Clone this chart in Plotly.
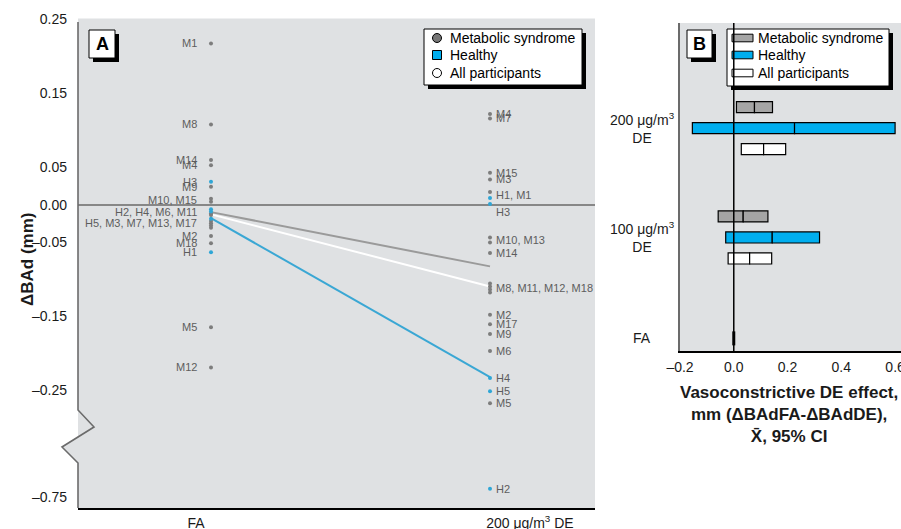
import plotly.graph_objects as go

# ---------------- data ----------------
participants = ["M1", "M2", "M3", "M4", "M5", "M6", "M7", "M8", "M9", "M10",
                "M11", "M12", "M13", "M14", "M15", "M17", "M18",
                "H1", "H2", "H3", "H4", "H5"]
bad_fa = [0.217, -0.042, -0.022, 0.053, -0.165, -0.012, -0.025, 0.108, 0.024, 0.008,
          -0.014, -0.219, -0.028, 0.060, 0.004, -0.031, -0.052,
          -0.064, -0.006, 0.031, -0.009, -0.019]
bad_de = [0.017, -0.148, 0.034, 0.122, -0.267, -0.197, 0.116, -0.106, -0.174, -0.044,
          -0.110, -0.114, -0.051, -0.065, 0.043, -0.161, -0.118,
          0.009, -0.739, 0.001, -0.233, -0.251]

fa_label_groups = [["M1"], ["M8"], ["M14"], ["M4"], ["H3"], ["M9"], ["M10", "M15"],
                   ["H2", "H4", "M6", "M11"], ["H5", "M3", "M7", "M13", "M17"],
                   ["M2"], ["M18"], ["H1"], ["M5"], ["M12"]]
de_label_groups = [["M4"], ["M7"], ["M15"], ["M3"], ["H1", "M1"], ["H3"], ["M10", "M13"],
                   ["M14"], ["M8", "M11", "M12", "M18"], ["M2"], ["M17"], ["M9"], ["M6"],
                   ["H4"], ["H5"], ["M5"], ["H2"]]

mean_groups = ["Metabolic syndrome", "All participants", "Healthy"]
mean_fa = [-0.010, -0.013, -0.018]
mean_de = [-0.083, -0.110, -0.232]

# Panel B: vasoconstrictive DE effect (mean, 95% CI) for 100 and 200 µg/m3 DE
b_exposures = ["100 μg/m<sup>3</sup><br>DE", "200 μg/m<sup>3</sup><br>DE"]
b_reference = "FA"
b_reference_effect = 0.0
mets_mean = [0.035, 0.077]
mets_lo = [-0.058, 0.010]
mets_hi = [0.127, 0.144]
healthy_mean = [0.143, 0.226]
healthy_lo = [-0.030, -0.154]
healthy_hi = [0.319, 0.600]
all_mean = [0.059, 0.111]
all_lo = [-0.021, 0.028]
all_hi = [0.141, 0.193]

legend_names = ["Metabolic syndrome", "Healthy", "All participants"]

a_yticks = [0.25, 0.15, 0.05, 0.0, -0.05, -0.15, -0.25]
a_yticktext = ["0.25", "0.15", "0.05", "0.00", "–0.05", "–0.15", "–0.25"]
a_low_ticks = [-0.75]
a_low_ticktext = ["–0.75"]
a_xticktext = ["FA", "200 μg/m<sup>3</sup> DE"]
b_xticks = [-0.2, 0.0, 0.2, 0.4, 0.6]
b_xticktext = ["–0.2", "0.0", "0.2", "0.4", "0.6"]

# ---------------- style / layout helpers ----------------
W, H = 901, 529
BG = "#dfe1e3"
GRAY_DOT = "#7d7d7d"
BLUE_DOT = "#2fa6d6"
BLUE_BAR = "#00aeef"
GRAY_BAR = "#a5a5a5"
SANS = "Liberation Sans, Arial, sans-serif"
TXT = "#1a1a1a"
LABEL_FONT = dict(family=SANS, size=11, color="#5d5d5d")
BREAK = -0.3  # values below this go to the lower (broken) segment


def px(x):
    return x / W


def py(y):
    return 1 - y / H


value_fa = dict(zip(participants, bad_fa))
value_de = dict(zip(participants, bad_de))

fig = go.Figure()

# group mean lines (panel A)
line_colors = {"Metabolic syndrome": "#9a9a9a", "All participants": "#ffffff", "Healthy": "#3aa7d4"}
for g, f, d in zip(mean_groups, mean_fa, mean_de):
    fig.add_trace(go.Scatter(x=[0, 1], y=[f, d], mode="lines", showlegend=False,
                             line=dict(color=line_colors[g], width=2), hoverinfo="skip",
                             xaxis="x", yaxis="y"))

# individual points (panel A)
for prefix, color in (("M", GRAY_DOT), ("H", BLUE_DOT)):
    for xpos, vals in ((0, value_fa), (1, value_de)):
        ids = [p for p in participants if p.startswith(prefix)]
        up = [vals[p] for p in ids if vals[p] >= BREAK]
        lo = [vals[p] for p in ids if vals[p] < BREAK]
        fig.add_trace(go.Scatter(x=[xpos] * len(up), y=up, mode="markers", showlegend=False,
                                 marker=dict(color=color, size=4), xaxis="x", yaxis="y"))
        if lo:
            fig.add_trace(go.Scatter(x=[xpos] * len(lo), y=lo, mode="markers", showlegend=False,
                                     marker=dict(color=color, size=4), xaxis="x", yaxis="y2"))

# panel B bars: category positions and in-group offsets
cat_pos = [0.96, 2.0]
offsets = {"Metabolic syndrome": 0.2, "Healthy": 0.0, "All participants": -0.2}
bar_sets = [("Metabolic syndrome", GRAY_BAR, mets_lo, mets_mean, mets_hi),
            ("Healthy", BLUE_BAR, healthy_lo, healthy_mean, healthy_hi),
            ("All participants", "white", all_lo, all_mean, all_hi)]
for name, color, lo, mn, hi in bar_sets:
    ys = [c + offsets[name] for c in cat_pos]
    fig.add_trace(go.Bar(orientation="h", y=ys, base=lo, x=[m - l for m, l in zip(mn, lo)],
                         width=0.105, marker=dict(color=color, line=dict(color="black", width=1.2)),
                         name=name, showlegend=False, xaxis="x3", yaxis="y3"))
    fig.add_trace(go.Bar(orientation="h", y=ys, base=mn, x=[h - m for h, m in zip(hi, mn)],
                         width=0.105, marker=dict(color=color, line=dict(color="black", width=1.2)),
                         name=name, showlegend=False, xaxis="x3", yaxis="y3"))
# FA reference mark
fig.add_trace(go.Scatter(x=[b_reference_effect], y=[0], mode="markers", showlegend=False,
                         marker=dict(symbol="line-ns", size=10, line=dict(color="black", width=3)),
                         xaxis="x3", yaxis="y3"))

# ---------------- annotations ----------------
ann = []
de_label_nudge = {"H3": -8}
for groups, vals, xpos, side in ((fa_label_groups, value_fa, 0, "left"), (de_label_groups, value_de, 1, "right")):
    for grp in groups:
        yv = sum(vals[p] for p in grp) / len(grp)
        key = ", ".join(grp)
        ann.append(dict(text=key, x=xpos, y=yv, xref="x", yref="y" if yv >= BREAK else "y2",
                        xanchor="right" if side == "left" else "left", yanchor="middle",
                        xshift=-12 if side == "left" else 4,
                        yshift=de_label_nudge.get(key, 0) if side == "right" else 0,
                        showarrow=False, font=LABEL_FONT))

# y title panel A
ann.append(dict(text="<b>ΔBAd (mm)</b>", x=px(27), y=py(260), xref="paper", yref="paper",
                xanchor="center", yanchor="middle",
                textangle=-90, showarrow=False, font=dict(family=SANS, size=17, color=TXT)))
# x title panel B
ann.append(dict(text="<b>Vasoconstrictive DE effect,<br>mm (ΔBAdFA-ΔBAdDE),<br>X̄, 95% CI</b>",
                x=px(789), y=py(381), xref="paper", yref="paper", xanchor="center", yanchor="top",
                showarrow=False, font=dict(family=SANS, size=17, color=TXT)))
# category labels panel B
for lab, c in zip(b_exposures, cat_pos):
    ann.append(dict(text=lab, x=px(642), y=c, xref="paper", yref="y3", xanchor="center", yanchor="middle",
                    align="center", showarrow=False, font=dict(family=SANS, size=14, color=TXT)))
ann.append(dict(text=b_reference, x=px(642), y=0, xref="paper", yref="y3", xanchor="center", yanchor="middle",
                showarrow=False, font=dict(family=SANS, size=14, color=TXT)))
# panel letters
for letter, x0, x1 in (("A", 89, 115), ("B", 687, 712)):
    ann.append(dict(text=f"<b>{letter}</b>", x=px((x0 + x1) / 2), y=py(44), xref="paper", yref="paper",
                    xanchor="center", yanchor="middle", showarrow=False,
                    font=dict(family=SANS, size=18, color="black")))

# ---------------- shapes ----------------
shapes = []


def box(x0, y0, x1, y1, shadow=4):
    shapes.append(dict(type="rect", xref="paper", yref="paper", x0=px(x0 + shadow), x1=px(x1 + shadow),
                       y0=py(y1 + shadow), y1=py(y0 + shadow), fillcolor="black", line=dict(width=0), layer="above"))
    shapes.append(dict(type="rect", xref="paper", yref="paper", x0=px(x0), x1=px(x1),
                       y0=py(y1), y1=py(y0), fillcolor="white", line=dict(color="black", width=1), layer="above"))


box(424, 29, 582, 85)
box(727, 29, 889, 86)
box(89, 30, 115, 58)
box(687, 30, 712, 58)

# legend keys (drawn inside the boxes)
row_y = [38, 55, 73]
a_keys = [("circle", "#777777"), ("rect", BLUE_BAR), ("circle", "white")]
for (kind, col), name, ry in zip(a_keys, legend_names, row_y):
    shapes.append(dict(type=kind, xref="paper", yref="paper", x0=px(432.5), x1=px(441.5),
                       y0=py(ry + 4.5), y1=py(ry - 4.5), fillcolor=col,
                       line=dict(color="black", width=1), layer="above"))
    ann.append(dict(text=name, x=px(448), y=py(ry), xref="paper", yref="paper", xanchor="left",
                    yanchor="middle", showarrow=False, font=dict(family=SANS, size=14, color="black")))
b_keys = [GRAY_BAR, BLUE_BAR, "white"]
for col, name, ry in zip(b_keys, legend_names, row_y):
    shapes.append(dict(type="rect", xref="paper", yref="paper", x0=px(732), x1=px(753),
                       y0=py(ry + 3.8), y1=py(ry - 3.8), fillcolor=col,
                       line=dict(color="black", width=1), layer="above"))
    ann.append(dict(text=name, x=px(756), y=py(ry), xref="paper", yref="paper", xanchor="left",
                    yanchor="middle", showarrow=False, font=dict(family=SANS, size=14, color="black")))

# broken left axis of panel A
shapes.append(dict(type="path", xref="paper", yref="paper",
                   path=f"M {px(78)},{py(437)} L {px(62)},{py(447)} L {px(78)},{py(463)} Z",
                   fillcolor=BG, line=dict(width=0), layer="below"))
shapes.append(dict(type="path", xref="paper", yref="paper",
                   path=(f"M {px(78)},{py(22)} L {px(78)},{py(410)} L {px(94)},{py(427)} "
                         f"L {px(62)},{py(447)} L {px(78)},{py(463)} L {px(78)},{py(508)}"),
                   line=dict(color="#6b6b6b", width=1.6), layer="above"))
# zero-effect line panel B
shapes.append(dict(type="line", xref="x3", yref="y3 domain", x0=0, x1=0, y0=0, y1=1,
                   line=dict(color="black", width=1.5), layer="above"))

tickfont = dict(family=SANS, size=14, color=TXT)
fig.update_layout(
    width=W, height=H, margin=dict(l=0, r=0, t=0, b=0, autoexpand=False), autosize=False,
    paper_bgcolor="white", plot_bgcolor=BG, barmode="overlay", showlegend=False,
    xaxis=dict(domain=[px(78), px(595)], range=[-0.4767, 1.3763], anchor="y2",
               showline=True, linecolor="black", linewidth=1.5, showgrid=False, zeroline=False,
               tickvals=[-0.054, 1.143], ticktext=a_xticktext, ticks="", ticklen=0,
               ticklabelstandoff=1, tickfont=tickfont, automargin=False, ticklabeloverflow="allow"),
    yaxis=dict(domain=[py(436), py(18.5)], range=[-0.3112, 0.2505], anchor="x",
               showline=False, showgrid=False, zeroline=True, zerolinecolor="#878787", zerolinewidth=1.5,
               tickvals=a_yticks, ticktext=a_yticktext, ticks="", ticklen=0, ticklabelstandoff=10,
               tickfont=tickfont, automargin=False),
    yaxis2=dict(domain=[py(508), py(436)], range=[-0.7648, -0.668], anchor="x",
                showline=False, showgrid=False, zeroline=False,
                tickvals=a_low_ticks, ticktext=a_low_ticktext, ticks="", ticklen=0, ticklabelstandoff=10,
                tickfont=tickfont, automargin=False),
    xaxis3=dict(domain=[px(680), 1.0], range=[-0.2, 0.622], anchor="y3",
                showline=True, linecolor="black", linewidth=1.5, showgrid=False, zeroline=False,
                tickvals=b_xticks, ticktext=b_xticktext, ticks="", ticklen=0, ticklabelstandoff=2,
                tickfont=tickfont, automargin=False, ticklabeloverflow="allow"),
    yaxis3=dict(domain=[py(351), py(23)], range=[-0.12, 3.0], anchor="x3",
                showline=True, linecolor="#6b6b6b", linewidth=2, showgrid=False, zeroline=False,
                showticklabels=False, ticks="", automargin=False),
    annotations=ann, shapes=shapes,
)

fig.write_html("out.html", config={"displayModeBar": False},
               post_script="document.body.style.margin='0px';document.body.style.overflow='hidden';")
